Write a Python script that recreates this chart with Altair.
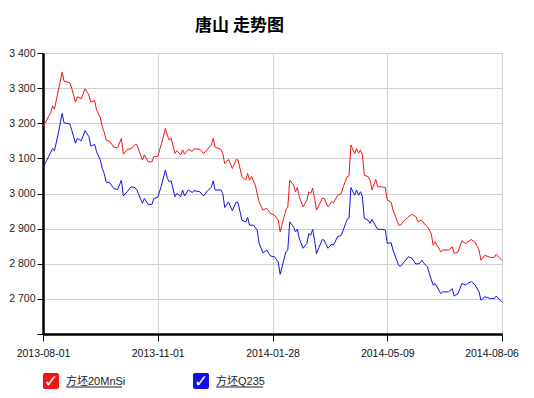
import altair as alt
import pandas as pd

TITLE = "唐山 走势图"
SERIES = ["方坯20MnSi", "方坯Q235"]
COLORS = ["#f01414", "#1010e6"]
X_TICK_POS = [0, 60, 120, 180, 240]
X_TICK_LABELS = ["2013-08-01", "2013-11-01", "2014-01-28", "2014-05-09", "2014-08-06"]
Y_TICKS = [2600, 2700, 2800, 2900, 3000, 3100, 3200, 3300, 3400]

# trading-day index and price for 方坯20MnSi
red_idx = [0, 4, 5, 6, 10, 11, 14, 15, 17, 18, 20, 22, 24, 25, 27, 28, 30, 31, 32, 33,
           35, 37, 39, 41, 42, 44, 46, 48, 49, 52, 53, 55, 57, 58, 60, 62, 64, 65, 66, 67,
           69, 70, 72, 73, 74, 76, 78, 79, 82, 84, 86, 88, 89, 90, 92, 93, 94, 95, 97, 99,
           101, 102, 104, 106, 107, 108, 109, 111, 113, 115, 117, 119, 121, 123, 124, 127, 128, 129, 131, 132,
           133, 134, 136, 138, 139, 140, 141, 142, 143, 146, 147, 149, 151, 152, 154, 156, 157, 159, 160, 161,
           163, 164, 165, 166, 167, 168, 170, 171, 172, 174, 175, 177, 179, 180, 182, 183, 186, 187, 189, 193,
           195, 196, 198, 200, 201, 203, 204, 205, 208, 209, 212, 214, 215, 217, 219, 221, 222, 224, 226, 228,
           229, 231, 234, 236, 237, 239, 240]
red_val = [3190, 3230, 3250, 3240, 3345, 3320, 3315, 3300, 3260, 3275, 3270, 3298, 3280, 3260, 3265, 3238, 3215, 3190, 3175, 3152,
           3148, 3132, 3130, 3157, 3112, 3125, 3128, 3138, 3140, 3095, 3110, 3090, 3090, 3105, 3106, 3143, 3185, 3166, 3152, 3158,
           3114, 3122, 3110, 3124, 3112, 3126, 3120, 3127, 3126, 3114, 3126, 3138, 3157, 3131, 3128, 3126, 3114, 3085, 3097, 3071,
           3097, 3095, 3048, 3038, 3057, 3038, 3048, 3024, 2976, 2953, 2958, 2943, 2938, 2924, 2891, 2953, 2962, 3038, 3024, 3005,
           3017, 2991, 2962, 2981, 3005, 3000, 3015, 2986, 2953, 2986, 2986, 2962, 2976, 2974, 2995, 3000, 3019, 3048, 3050, 3138,
           3114, 3128, 3115, 3124, 3110, 3052, 3048, 3038, 3010, 3040, 3019, 3019, 3017, 2981, 2976, 2953, 2910, 2910, 2924, 2941,
           2934, 2920, 2924, 2910, 2905, 2886, 2853, 2862, 2834, 2839, 2839, 2848, 2829, 2834, 2865, 2858, 2862, 2869, 2860, 2839,
           2810, 2824, 2818, 2818, 2827, 2815, 2810]

# trading-day index and price for 方坯Q235
blue_idx = [0, 2, 5, 6, 8, 10, 11, 14, 15, 17, 18, 20, 22, 24, 25, 27, 28, 30, 31, 32,
            33, 35, 37, 39, 41, 42, 44, 46, 48, 49, 52, 53, 55, 57, 58, 60, 62, 64, 65, 66,
            67, 69, 70, 72, 73, 74, 76, 78, 79, 82, 84, 86, 88, 89, 90, 92, 93, 94, 95, 97,
            99, 101, 102, 104, 106, 107, 108, 110, 112, 113, 115, 117, 119, 121, 123, 124, 127, 128, 129, 131,
            132, 133, 134, 136, 138, 139, 140, 141, 142, 143, 146, 147, 149, 151, 152, 154, 156, 157, 159, 160,
            161, 163, 164, 165, 166, 167, 168, 170, 171, 172, 174, 175, 177, 179, 180, 182, 183, 185, 186, 187,
            189, 191, 193, 195, 197, 198, 200, 201, 202, 204, 205, 208, 209, 212, 214, 215, 217, 219, 221, 222,
            224, 226, 228, 229, 231, 234, 236, 237, 239, 240]
blue_val = [3074, 3095, 3128, 3122, 3171, 3228, 3201, 3198, 3181, 3143, 3157, 3150, 3179, 3162, 3135, 3140, 3119, 3095, 3071, 3057,
            3033, 3030, 3014, 3011, 3038, 2993, 3005, 3019, 3017, 3011, 2972, 2986, 2969, 2969, 2986, 2989, 3024, 3067, 3043, 3033,
            3036, 2991, 3000, 2991, 3010, 2993, 3010, 3003, 3008, 3005, 2993, 3008, 3017, 3036, 3010, 3010, 3010, 3000, 2960, 2976,
            2951, 2976, 2974, 2924, 2919, 2932, 2910, 2910, 2896, 2858, 2831, 2839, 2822, 2820, 2805, 2770, 2834, 2839, 2919, 2905,
            2891, 2898, 2872, 2844, 2858, 2886, 2881, 2898, 2867, 2829, 2869, 2867, 2844, 2856, 2854, 2877, 2881, 2896, 2926, 2929,
            3017, 2995, 3010, 2995, 3005, 2991, 2929, 2924, 2915, 2926, 2907, 2898, 2898, 2896, 2858, 2860, 2839, 2810, 2795, 2793,
            2806, 2820, 2815, 2799, 2801, 2810, 2796, 2792, 2772, 2739, 2744, 2715, 2720, 2720, 2729, 2708, 2715, 2744, 2739, 2744,
            2749, 2739, 2720, 2696, 2706, 2701, 2701, 2708, 2696, 2691]

df = pd.concat([
    pd.DataFrame({"idx": red_idx, "price": red_val, "series": SERIES[0]}),
    pd.DataFrame({"idx": blue_idx, "price": blue_val, "series": SERIES[1]}),
])

LABEL_FONT = "Liberation Sans"
label_array = "[" + ",".join("'" + s + "'" for s in X_TICK_LABELS) + "]"

lines = alt.Chart(df).mark_line(strokeWidth=1, interpolate="linear").encode(
    x=alt.X("idx:Q", scale=alt.Scale(domain=[X_TICK_POS[0], X_TICK_POS[-1]], nice=False, zero=False),
            axis=alt.Axis(values=X_TICK_POS, title=None, grid=True, gridColor="#d0d0d0", gridWidth=1,
                          domainColor="#000000", domainWidth=2.5, tickColor="#000000", tickSize=7,
                          tickWidth=1, labelFont=LABEL_FONT, labelFontSize=10.5, labelColor="#111111",
                          labelPadding=7, labelFlush=False, labelBound=False,
                          labelOffset=alt.ConditionalAxisNumber(
                              condition={"test": f"datum.value == {X_TICK_POS[-1]}", "value": -10.5},
                              value=0),
                          labelExpr=label_array + "[round(datum.value/60)]")),
    y=alt.Y("price:Q", scale=alt.Scale(domain=[Y_TICKS[0], Y_TICKS[-1]], nice=False, zero=False),
            axis=alt.Axis(values=Y_TICKS, title=None, grid=True, gridColor="#d0d0d0", gridWidth=1,
                          domainColor="#000000", domainWidth=2.5, tickColor="#000000", tickSize=6,
                          tickWidth=1, labelFont=LABEL_FONT, labelFontSize=10.5, labelColor="#222222",
                          labelPadding=2,
                          labelExpr="datum.value == 2600 ? '' : replace(format(datum.value, ','), ',', ' ')")),
    color=alt.Color("series:N", scale=alt.Scale(domain=SERIES, range=COLORS), legend=None),
    detail="series:N",
)

legend_layers = []
LEG_X = [0, 150]
for i, (name, col) in enumerate(zip(SERIES, COLORS)):
    x0 = LEG_X[i]
    box = alt.Chart().mark_rect(color=col, cornerRadius=2).encode(
        x=alt.value(x0), x2=alt.value(x0 + 16), y=alt.value(320), y2=alt.value(336))
    check = alt.Chart().mark_text(text="✓", color="white", fontSize=17, fontWeight="bold",
                                  font="DejaVu Sans", align="center", baseline="middle").encode(
        x=alt.value(x0 + 8), y=alt.value(328.5))
    label = alt.Chart().mark_text(text=name, color="#222222", fontSize=11,
                                  font="Liberation Sans, Noto Sans CJK SC", align="left",
                                  baseline="middle").encode(
        x=alt.value(x0 + 23), y=alt.value(328.5))
    uline = alt.Chart().mark_rule(color="#222222", strokeWidth=1).encode(
        x=alt.value(x0 + 23), x2=alt.value(x0 + 23 + (56 if i == 0 else 47)), y=alt.value(334))
    legend_layers += [box, check, label, uline]

chart = alt.layer(lines, *legend_layers).properties(
    width=459, height=281,
    title=alt.TitleParams(TITLE, font="Noto Sans CJK SC", fontSize=17, fontWeight="bold",
                          color="#000000", anchor="middle", frame="group", dx=-33, offset=13),
    autosize=alt.AutoSizeParams(type="none"),
    padding={"left": 35, "top": 45, "right": 24, "bottom": 56},
).configure_view(stroke=None).configure(background="white")

chart.save("out.html", embed_options={"renderer": "svg", "actions": False})
